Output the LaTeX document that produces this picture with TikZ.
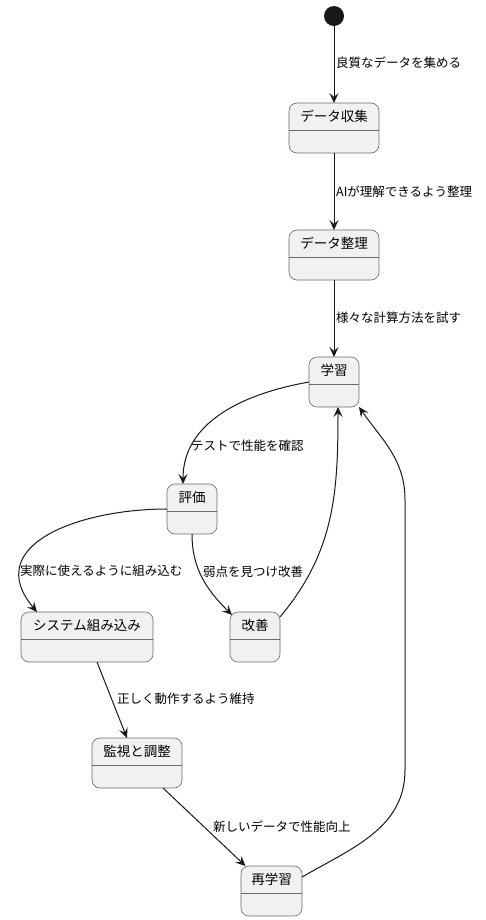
\documentclass[tikz,border=0pt]{standalone}
\usepackage{fontspec}
\setmainfont{Noto Sans CJK JP}
\usetikzlibrary{arrows.meta}
\definecolor{boxfill}{HTML}{F1F1F1}
\definecolor{boxline}{HTML}{181818}
\definecolor{boxedge}{HTML}{6A6A6A}

\begin{document}
\begin{tikzpicture}[x = 1pt, y = -1pt,
        stbox/.style = {draw = boxedge, line width = 0.6pt, fill = boxfill, rounded corners = 8pt,
                minimum height = 50pt, inner sep = 0pt, outer sep = 0pt},
        sttitle/.style = {font = \fontsize{13.5}{16}\selectfont, inner sep = 0pt},
        lbl/.style = {font = \fontsize{12.5}{15}\selectfont, inner sep = 0pt, anchor = west},
        edge/.style = {draw = boxline, line width = 1pt, -{Stealth[length = 10pt, width = 9pt, inset = 4pt]}}]

    \useasboundingbox (0, 0) rectangle (485, 920);

    % name, center x, top, width, title
    \newcommand{\stnode}[5]{
        \node [stbox, minimum width = #4pt] (#1)at(#2, #3 + 25) {};
        \node [sttitle] (#1t)at(#2, #3 + 13.5) {#5};
        \draw [boxedge, line width = 0.6pt]([yshift = -27pt]#1.north west)--([yshift = -27pt]#1.north east);
    }

    \node [circle, fill = boxline, minimum size = 20pt, inner sep = 0pt] (start)at(334, 16) {};

    \stnode{collect}{334}{103}{90}{データ収集}
    \stnode{arrange}{334}{230}{90}{データ整理}
    \stnode{learn}{334}{357}{50}{学習}
    \stnode{eval}{192}{484}{50}{評価}
    \stnode{sys}{87}{612}{132}{システム組み込み}
    \stnode{improve}{255}{612}{50}{改善}
    \stnode{mon}{137}{738}{90}{監視と調整}
    \stnode{relearn}{271.5}{866}{61}{再学習}

    \draw [edge](start)--(collect);
    \draw [edge](collect)--(arrange);
    \draw [edge](arrange)--(learn);
    \draw [edge](learn.west)to[out = 190, in = 90]([xshift = -9pt]eval.north);
    \draw [edge](eval.west)to[out = 180, in = 130, looseness = 1.35]([xshift = -50pt]sys.north);
    \draw [edge](eval.south)to[out = 270, in = 135]([shift = {(2pt, -3pt)}]improve.north west);
    \draw [edge]([yshift = -5pt]improve.north east)to[out = 50, in = 270]([xshift = 4pt]learn.south);
    \draw [edge]([xshift = 10pt]sys.south)--([xshift = -10pt]mon.north);
    \draw [edge]([xshift = 26pt]mon.south)--([xshift = -26pt]relearn.north);

    \coordinate (r1)at(405, 770);
    \coordinate (r2)at(405, 500);
    \draw [edge]([yshift = 14pt]relearn.east)to[out = 30, in = 270](r1)--(r2)to[out = 90, in = -55](learn.south east);

    \node [lbl] (l1)at(336, 63) {良質なデータを集める};
    \node [lbl] (l2)at(336, 192) {AIが理解できるよう整理};
    \node [lbl] (l3)at(336, 318) {様々な計算方法を試す};
    \node [lbl] (l4)at(191, 446) {テストで性能を確認};
    \node [lbl] (l5)at(20, 571) {実際に使えるように組み込む};
    \node [lbl] (l6)at(203, 572) {弱点を見つけ改善};
    \node [lbl] (l7)at(117, 699) {正しく動作するよう維持};
    \node [lbl] (l8)at(213, 827) {新しいデータで性能向上};
\end{tikzpicture}
\end{document}
